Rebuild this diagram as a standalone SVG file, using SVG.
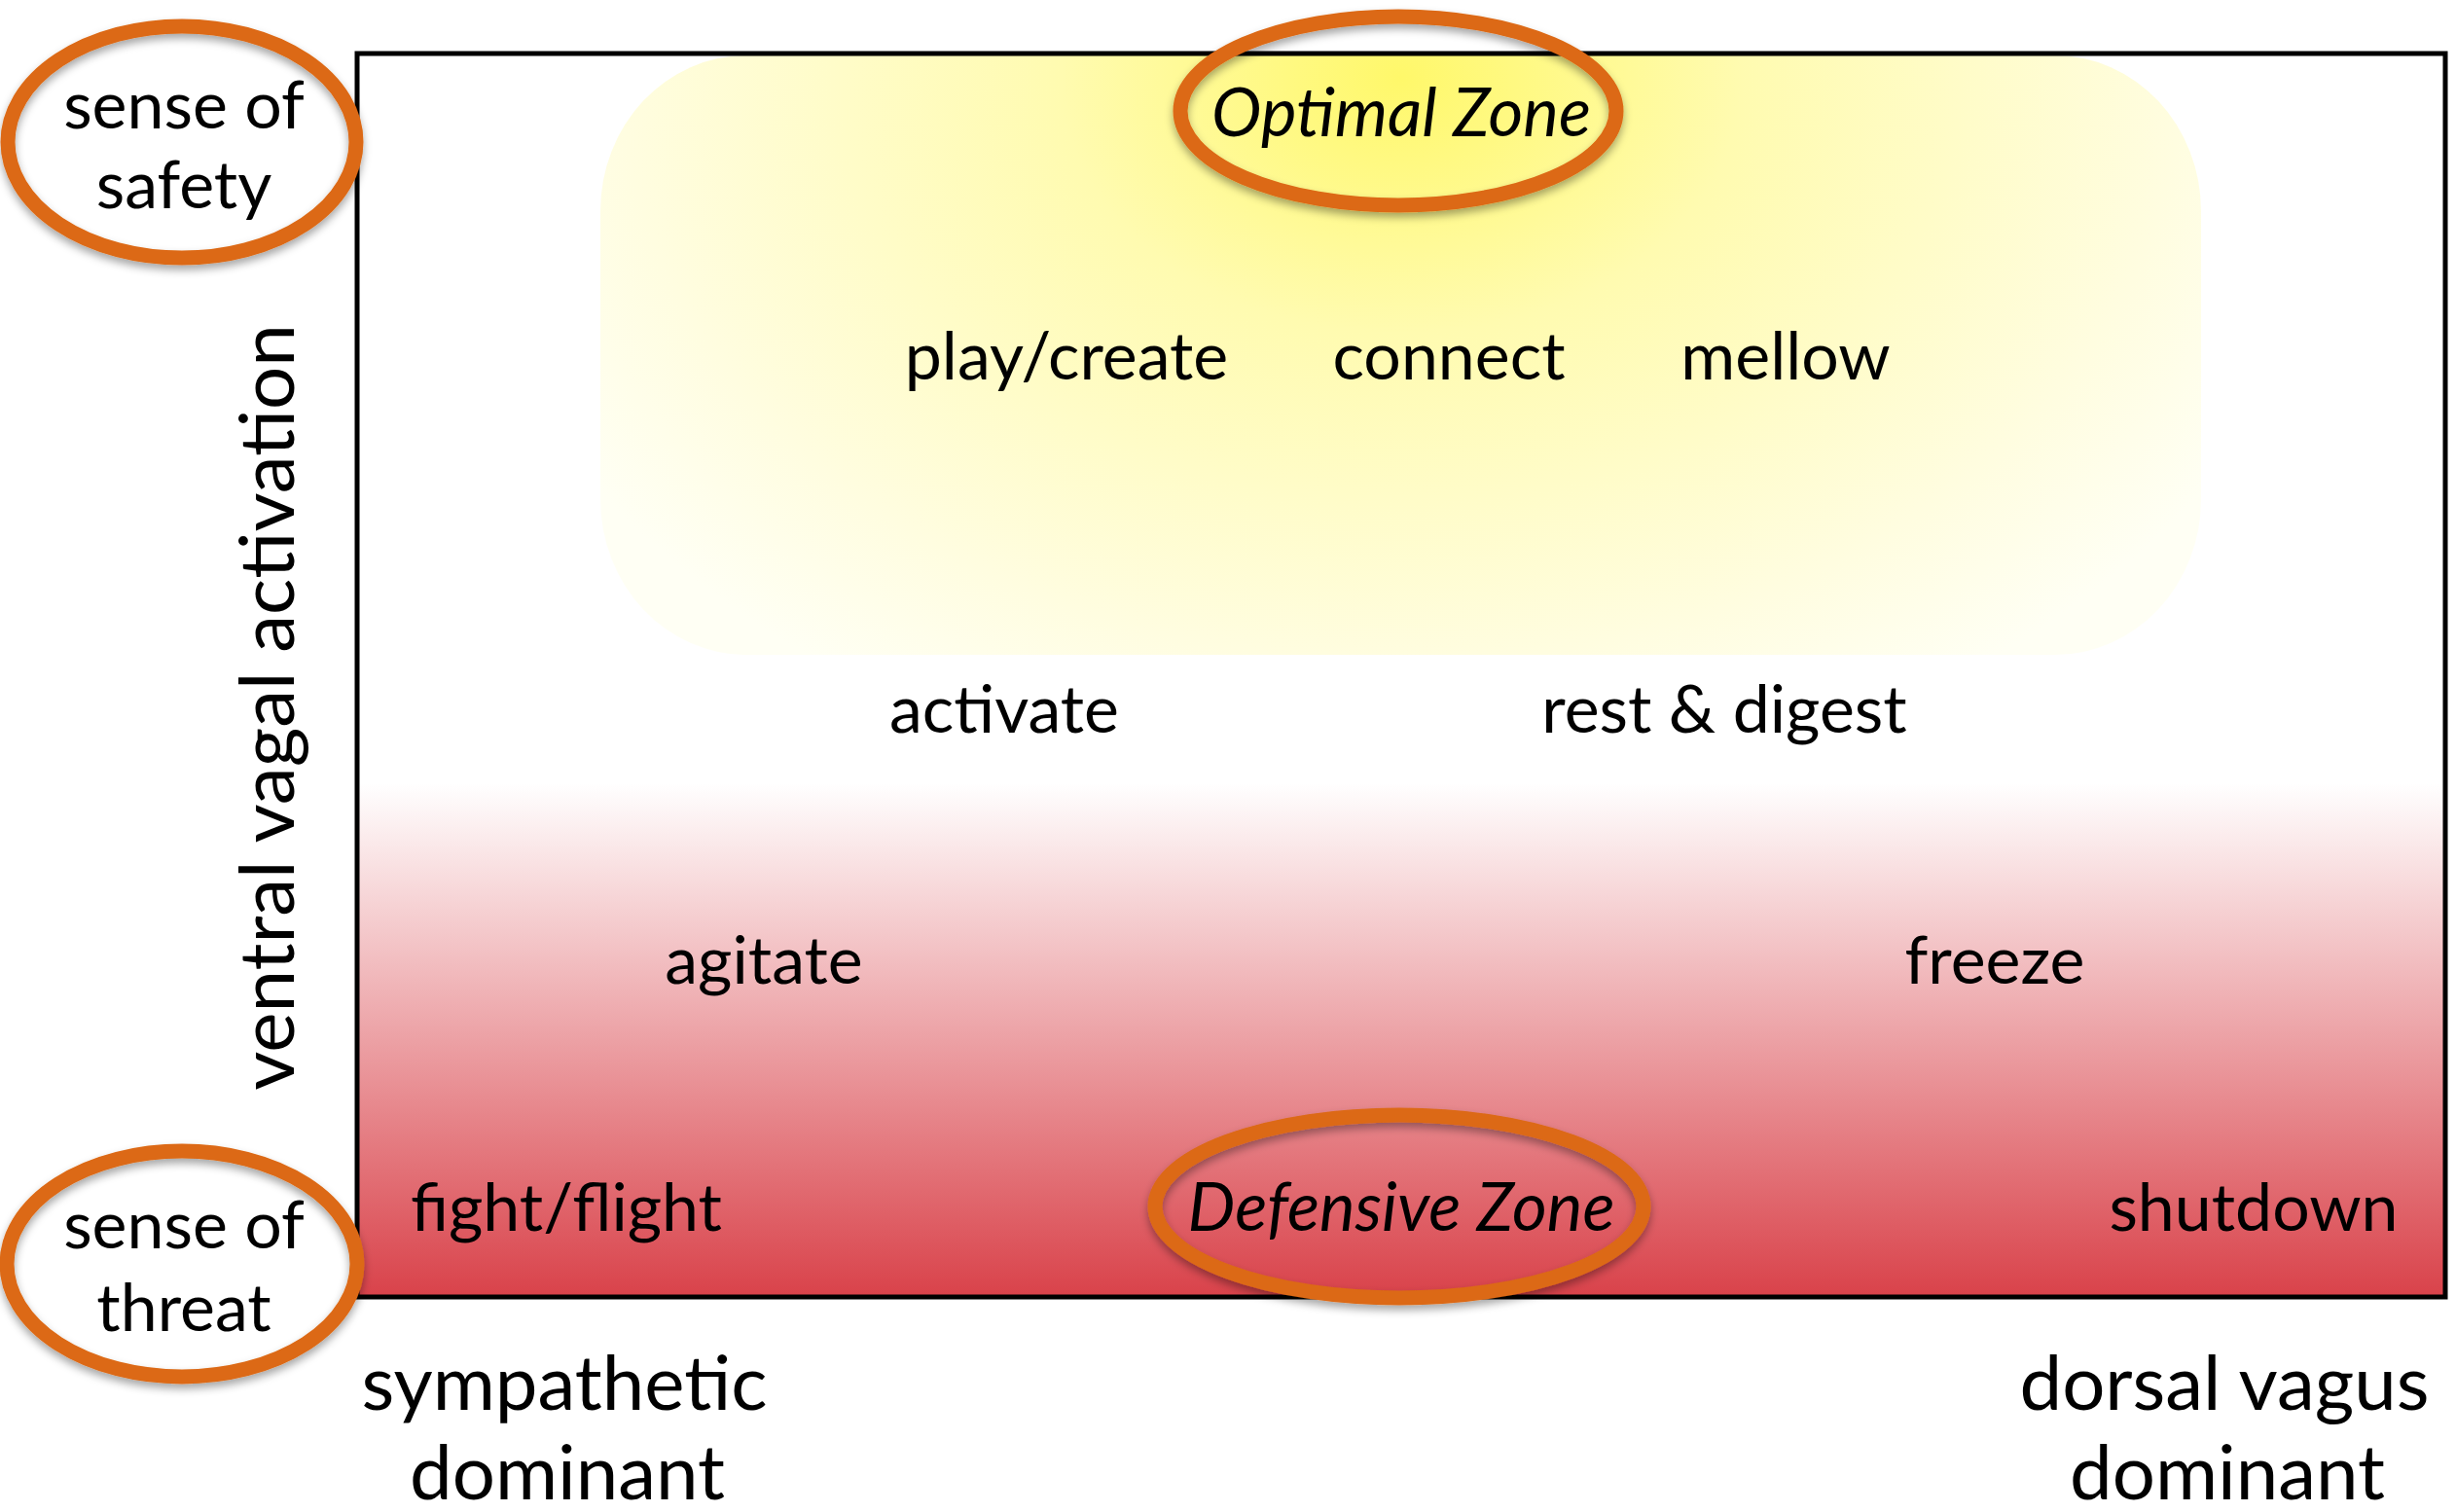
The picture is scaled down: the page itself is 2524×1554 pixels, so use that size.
<svg xmlns="http://www.w3.org/2000/svg" width="2524" height="1554" viewBox="0 0 2524 1554">
  <style>
    .lbl { font-family: Lato, "Open Sans", sans-serif; fill: #000; text-anchor: middle; }
    .in { font-size: 68px; }
    .axis { font-size: 78px; }
    .side { font-size: 68px; }
    .zone { font-size: 69px; font-style: italic; }
    .ring { fill: none; stroke: #dc6914; stroke-width: 15; filter: url(#shadow); }
  </style>
  <defs>
    <radialGradient id="calm" gradientUnits="userSpaceOnUse" cx="1440" cy="80" r="1000" gradientTransform="translate(1440 80) scale(1 0.75) translate(-1440 -80)">
      <stop offset="0" stop-color="#fff86a"/>
      <stop offset="0.35" stop-color="#fffbb0"/>
      <stop offset="0.8" stop-color="#fffde0"/>
      <stop offset="1" stop-color="#fffff4"/>
    </radialGradient>
    <linearGradient id="heat" x1="0" y1="805" x2="0" y2="1333" gradientUnits="userSpaceOnUse">
      <stop offset="0" stop-color="#ffffff"/>
      <stop offset="1" stop-color="#d9424a"/>
    </linearGradient>
    <filter id="shadow" x="-20%" y="-20%" width="140%" height="150%">
      <feDropShadow dx="0" dy="5" stdDeviation="4" flood-color="#000" flood-opacity="0.35"/>
    </filter>
  </defs>

  <!-- chart background -->
  <rect x="0" y="0" width="2524" height="1554" fill="#fff"/>
  <g id="chart">
    <rect x="367" y="55" width="2146" height="1278" fill="#fff"/>
    <rect id="optimal-band" x="617" y="57" width="1645" height="616" rx="150" ry="160" fill="url(#calm)"/>
    <rect id="defensive-band" x="367" y="805" width="2146" height="528" fill="url(#heat)"/>
    <rect x="367" y="55" width="2146" height="1278" fill="none" stroke="#000" stroke-width="5"/>
  </g>

  <!-- state labels -->
  <g id="play-create"><text class="lbl in" x="1096" y="390">play/create</text></g>
  <g id="connect"><text class="lbl in" x="1489" y="390">connect</text></g>
  <g id="mellow"><text class="lbl in" x="1835" y="390">mellow</text></g>
  <g id="activate"><text class="lbl in" x="1032" y="753">activate</text></g>
  <g id="rest-digest"><text class="lbl in" x="1772" y="753">rest &amp; digest</text></g>
  <g id="agitate"><text class="lbl in" x="785" y="1011">agitate</text></g>
  <g id="freeze"><text class="lbl in" x="2050" y="1011">freeze</text></g>
  <g id="fight-flight"><text class="lbl in" x="582" y="1265">fight/flight</text></g>
  <g id="shutdown"><text class="lbl in" x="2316" y="1265">shutdown</text></g>

  <!-- zone markers -->
  <g id="optimal-zone">
    <ellipse class="ring" cx="1437" cy="114" rx="224" ry="97"/>
    <text class="lbl zone" x="1440" y="140">Optimal Zone</text>
  </g>
  <g id="defensive-zone">
    <ellipse class="ring" cx="1438" cy="1240" rx="251" ry="94"/>
    <text class="lbl zone" x="1440" y="1265">Defensive Zone</text>
  </g>

  <!-- axis ends -->
  <g id="sense-of-safety">
    <ellipse class="ring" cx="187" cy="146" rx="179" ry="119"/>
    <text class="lbl side" x="189" y="132">sense of</text>
    <text class="lbl side" x="189" y="214">safety</text>
  </g>
  <g id="sense-of-threat">
    <ellipse class="ring" cx="187" cy="1299" rx="180" ry="116"/>
    <text class="lbl side" x="189" y="1283">sense of</text>
    <text class="lbl side" x="189" y="1368">threat</text>
  </g>
  <g id="vertical-axis">
    <text class="lbl axis" transform="translate(302 727) rotate(-90)" x="0" y="0">ventral vagal activation</text>
  </g>
  <g id="sympathetic-dominant">
    <text class="lbl axis" x="580" y="1449">sympathetic</text>
    <text class="lbl axis" x="583" y="1541">dominant</text>
  </g>
  <g id="dorsal-vagus-dominant">
    <text class="lbl axis" x="2286" y="1449">dorsal vagus</text>
    <text class="lbl axis" x="2289" y="1541">dominant</text>
  </g>

  <g id="connectors"/>
</svg>
